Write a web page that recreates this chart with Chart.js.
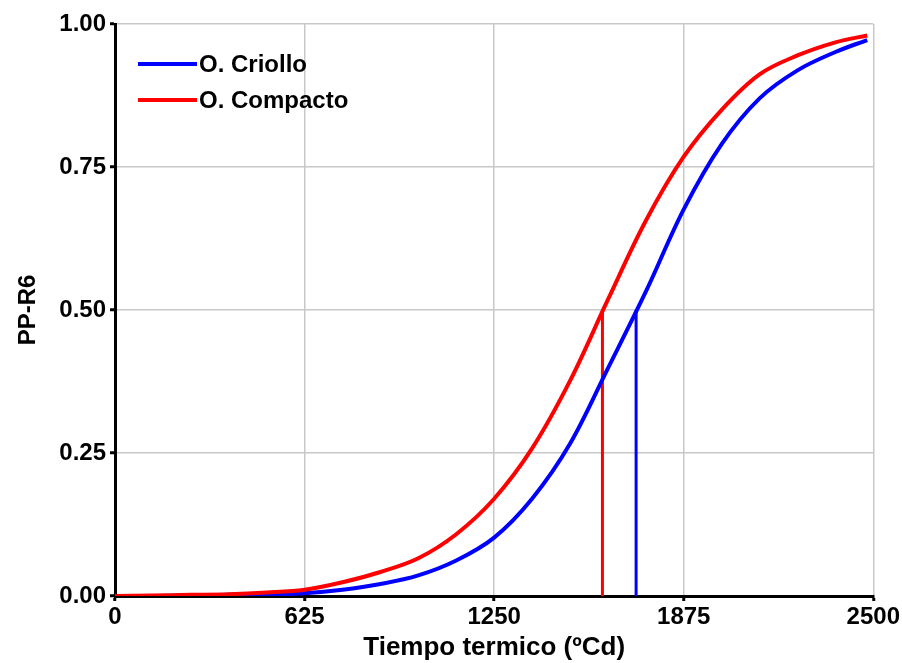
<!DOCTYPE html>
<html>
<head>
<meta charset="utf-8">
<script src="https://cdn.jsdelivr.net/npm/chart.js@4.4.1/dist/chart.umd.min.js"></script>
<style>
  html, body { margin: 0; padding: 0; background: #fff; }
  #wrap { width: 902px; height: 663px; }
</style>
</head>
<body>
<div id="wrap"><canvas id="graph" width="902" height="663"></canvas></div>
<script>
// thermal time (ºCd) and cumulative PP-R6 proportion for each population
const thermalTime = [0, 125, 250, 375, 500, 625, 750, 875, 1000, 1125, 1250, 1375, 1500, 1625, 1750, 1875, 2000, 2125, 2250, 2375, 2480];
const criollo = [0, 0, 0.001, 0.002, 0.003, 0.005, 0.011, 0.021, 0.036, 0.062, 0.102, 0.170, 0.266, 0.398, 0.532, 0.676, 0.790, 0.870, 0.919, 0.951, 0.972];
const compacto = [0, 0.001, 0.002, 0.003, 0.006, 0.011, 0.024, 0.042, 0.066, 0.108, 0.170, 0.258, 0.376, 0.518, 0.656, 0.768, 0.850, 0.912, 0.945, 0.968, 0.980];

// time to 50 % for each population
const medianCriollo = 1718;
const medianCompacto = 1607;

const xTicks = [0, 625, 1250, 1875, 2500];
const yTicks = [0, 0.25, 0.5, 0.75, 1];
const legendOrder = ["O. Criollo", "O. Compacto"];

const BLUE = "#0000ff";
const RED = "#ff0000";
const FONT = "'Liberation Sans', Arial, sans-serif";

const toPoints = (ys) => thermalTime.map((x, i) => ({ x: x, y: ys[i] }));

// legend drawn inside the plot, top-left
const insideLegend = {
  id: "insideLegend",
  afterDraw(chart) {
    const ctx = chart.ctx;
    const area = chart.chartArea;
    ctx.save();
    ctx.font = "bold 24px " + FONT;
    ctx.textBaseline = "middle";
    ctx.fillStyle = "#000";
    legendOrder.forEach((name, i) => {
      const d = chart.data.datasets.find((ds) => ds.label === name);
      const y = area.top + 40 + i * 36;
      ctx.strokeStyle = d.borderColor;
      ctx.lineWidth = 4;
      ctx.beginPath();
      ctx.moveTo(area.left + 23, y);
      ctx.lineTo(area.left + 82, y);
      ctx.stroke();
      ctx.fillText(d.label, area.left + 84, y + 1);
    });
    ctx.restore();
  },
};

new Chart(document.getElementById("graph"), {
  type: "line",
  data: {
    datasets: [
      {
        label: "O. Compacto",
        data: toPoints(compacto),
        borderColor: RED,
        borderWidth: 4,
        pointRadius: 0,
        tension: 0.35,
        order: 0,
      },
      {
        label: "O. Criollo",
        data: toPoints(criollo),
        borderColor: BLUE,
        borderWidth: 4,
        pointRadius: 0,
        tension: 0.35,
        order: 1,
      },
      {
        label: "median compacto",
        data: [{ x: medianCompacto, y: 0 }, { x: medianCompacto, y: 0.5 }],
        borderColor: RED,
        borderWidth: 3,
        pointRadius: 0,
        order: 2,
      },
      {
        label: "median criollo",
        data: [{ x: medianCriollo, y: 0 }, { x: medianCriollo, y: 0.5 }],
        borderColor: BLUE,
        borderWidth: 3,
        pointRadius: 0,
        order: 2,
      },
    ],
  },
  options: {
    responsive: false,
    animation: false,
    events: [],
    layout: { padding: { top: 24, right: 28, left: 0, bottom: 0 } },
    plugins: {
      legend: { display: false },
      tooltip: { enabled: false },
    },
    scales: {
      x: {
        type: "linear",
        min: 0,
        max: 2500,
        afterBuildTicks: (s) => { s.ticks = xTicks.map((v) => ({ value: v })); },
        afterFit: (s) => { s.height = 67; },
        grid: { color: "#c8c8c8", lineWidth: 1.5, tickColor: "#000", tickLength: 5, tickWidth: 3 },
        border: { color: "#000", width: 3 },
        ticks: {
          color: "#000",
          padding: 2,
          font: { family: FONT, size: 24, weight: "bold" },
          maxRotation: 0,
          callback: (v) => String(v),
        },
        title: {
          display: true,
          text: "Tiempo termico (ºCd)",
          color: "#000",
          padding: { top: 0, bottom: 0 },
          font: { family: FONT, size: 26, weight: "bold" },
        },
      },
      y: {
        min: 0,
        max: 1,
        afterBuildTicks: (s) => { s.ticks = yTicks.map((v) => ({ value: v })); },
        afterFit: (s) => { s.width = 115; },
        grid: { color: "#c8c8c8", lineWidth: 1.5, tickColor: "#000", tickLength: 5, tickWidth: 3 },
        border: { color: "#000", width: 3 },
        ticks: {
          color: "#000",
          padding: 4,
          font: { family: FONT, size: 24, weight: "bold" },
          callback: (v) => v.toFixed(2),
        },
        title: {
          display: true,
          text: "PP-R6",
          color: "#000",
          padding: { top: 14, bottom: 10 },
          font: { family: FONT, size: 24, weight: "bold" },
        },
      },
    },
  },
  plugins: [insideLegend],
});
</script>
</body>
</html>
